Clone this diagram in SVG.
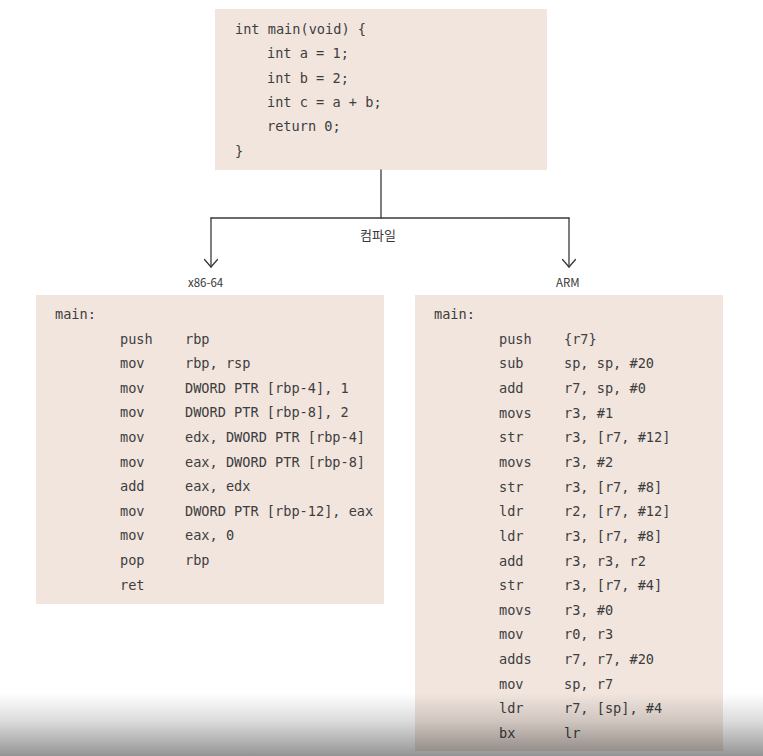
<svg xmlns="http://www.w3.org/2000/svg" width="763" height="756" viewBox="0 0 763 756">
  <style>
    .box { fill: #f1e5de; }
    .code { font-family: "DejaVu Sans Mono", "Liberation Mono", monospace; font-size: 13.6px; fill: #3e3e3e; }
    .wire { fill: none; stroke: #3a3a3a; stroke-width: 1.3; stroke-linecap: round; stroke-linejoin: round; }
    .lbl { font-family: "Noto Sans CJK KR", "Noto Sans", sans-serif; font-size: 11.5px; fill: #3a3a3a; }
    .klbl { font-family: "Noto Sans CJK KR", sans-serif; font-size: 13px; fill: #3a3a3a; }
  </style>
  <defs>
    <!-- open chevron head, drawn pointing along +x so orient="auto" follows the line -->
    <marker id="arrow" viewBox="0 0 10 14" refX="9" refY="7" markerWidth="10" markerHeight="14" markerUnits="userSpaceOnUse" orient="auto">
      <polyline points="1.5,0.5 9,7 1.5,13.5" fill="none" stroke="#3a3a3a" stroke-width="1.3" stroke-linecap="round" stroke-linejoin="round"/>
    </marker>
    <linearGradient id="shade" x1="0" y1="0" x2="0" y2="1">
      <stop offset="0" stop-color="#000" stop-opacity="0"/>
      <stop offset="0.45" stop-color="#000" stop-opacity="0.14"/>
      <stop offset="1" stop-color="#000" stop-opacity="0.42"/>
    </linearGradient>
  </defs>

  <rect width="763" height="756" fill="#ffffff"/>

  <!-- C source -->
  <g id="source">
    <rect class="box" x="215" y="9" width="332" height="161"/>
    <text class="code" x="235" y="34">int main(void) {</text>
    <text class="code" x="267" y="58.3">int a = 1;</text>
    <text class="code" x="267" y="82.6">int b = 2;</text>
    <text class="code" x="267" y="106.9">int c = a + b;</text>
    <text class="code" x="267" y="131.2">return 0;</text>
    <text class="code" x="235" y="155.5">}</text>
  </g>

  <!-- compile branches -->
  <g id="connectors">
    <path class="wire" d="M381,170 L381,218"/>
    <path class="wire" d="M211,218 L569,218"/>
    <path class="wire" d="M211,218 L211,267" marker-end="url(#arrow)"/>
    <path class="wire" d="M569,218 L569,267" marker-end="url(#arrow)"/>
    <text class="klbl" x="378" y="240" text-anchor="middle">컴파일</text>
    <text class="lbl" x="188" y="287">x86-64</text>
    <text class="lbl" x="556" y="287">ARM</text>
  </g>

  <!-- x86-64 output -->
  <g id="x86">
    <rect class="box" x="36" y="295" width="348" height="309"/>
    <text class="code" x="55" y="319">main:</text>
    <text class="code" y="343.6"><tspan x="120">push</tspan><tspan x="185">rbp</tspan></text>
    <text class="code" y="368.2"><tspan x="120">mov</tspan><tspan x="185">rbp, rsp</tspan></text>
    <text class="code" y="392.8"><tspan x="120">mov</tspan><tspan x="185">DWORD PTR [rbp-4], 1</tspan></text>
    <text class="code" y="417.4"><tspan x="120">mov</tspan><tspan x="185">DWORD PTR [rbp-8], 2</tspan></text>
    <text class="code" y="442"><tspan x="120">mov</tspan><tspan x="185">edx, DWORD PTR [rbp-4]</tspan></text>
    <text class="code" y="466.6"><tspan x="120">mov</tspan><tspan x="185">eax, DWORD PTR [rbp-8]</tspan></text>
    <text class="code" y="491.2"><tspan x="120">add</tspan><tspan x="185">eax, edx</tspan></text>
    <text class="code" y="515.8"><tspan x="120">mov</tspan><tspan x="185">DWORD PTR [rbp-12], eax</tspan></text>
    <text class="code" y="540.4"><tspan x="120">mov</tspan><tspan x="185">eax, 0</tspan></text>
    <text class="code" y="565"><tspan x="120">pop</tspan><tspan x="185">rbp</tspan></text>
    <text class="code" y="589.6"><tspan x="120">ret</tspan></text>
  </g>

  <!-- ARM output -->
  <g id="arm">
    <rect class="box" x="415" y="295" width="308" height="456"/>
    <text class="code" x="434" y="319">main:</text>
    <text class="code" y="343.6"><tspan x="499">push</tspan><tspan x="564">{r7}</tspan></text>
    <text class="code" y="368.3"><tspan x="499">sub</tspan><tspan x="564">sp, sp, #20</tspan></text>
    <text class="code" y="392.9"><tspan x="499">add</tspan><tspan x="564">r7, sp, #0</tspan></text>
    <text class="code" y="417.6"><tspan x="499">movs</tspan><tspan x="564">r3, #1</tspan></text>
    <text class="code" y="442.2"><tspan x="499">str</tspan><tspan x="564">r3, [r7, #12]</tspan></text>
    <text class="code" y="466.9"><tspan x="499">movs</tspan><tspan x="564">r3, #2</tspan></text>
    <text class="code" y="491.5"><tspan x="499">str</tspan><tspan x="564">r3, [r7, #8]</tspan></text>
    <text class="code" y="516.2"><tspan x="499">ldr</tspan><tspan x="564">r2, [r7, #12]</tspan></text>
    <text class="code" y="540.8"><tspan x="499">ldr</tspan><tspan x="564">r3, [r7, #8]</tspan></text>
    <text class="code" y="565.5"><tspan x="499">add</tspan><tspan x="564">r3, r3, r2</tspan></text>
    <text class="code" y="590.1"><tspan x="499">str</tspan><tspan x="564">r3, [r7, #4]</tspan></text>
    <text class="code" y="614.8"><tspan x="499">movs</tspan><tspan x="564">r3, #0</tspan></text>
    <text class="code" y="639.4"><tspan x="499">mov</tspan><tspan x="564">r0, r3</tspan></text>
    <text class="code" y="664.1"><tspan x="499">adds</tspan><tspan x="564">r7, r7, #20</tspan></text>
    <text class="code" y="688.7"><tspan x="499">mov</tspan><tspan x="564">sp, r7</tspan></text>
    <text class="code" y="713.4"><tspan x="499">ldr</tspan><tspan x="564">r7, [sp], #4</tspan></text>
    <text class="code" y="738"><tspan x="499">bx</tspan><tspan x="564">lr</tspan></text>
  </g>

  <!-- darkening along the lower edge -->
  <rect x="0" y="693" width="763" height="63" fill="url(#shade)"/>
</svg>
